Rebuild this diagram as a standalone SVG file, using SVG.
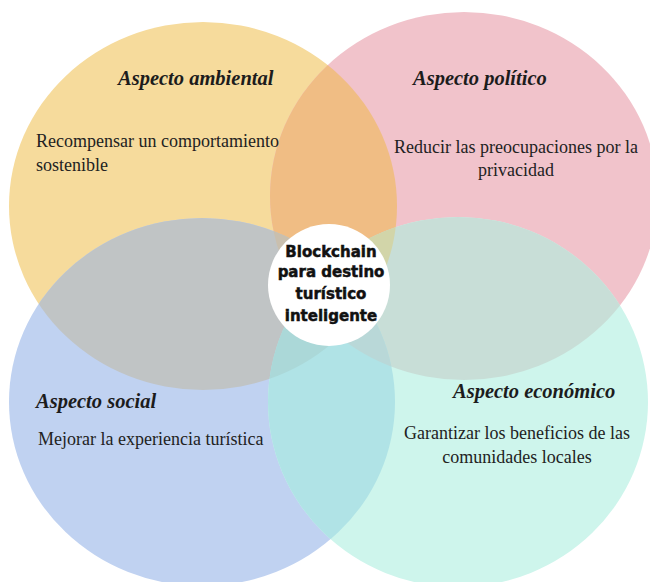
<svg xmlns="http://www.w3.org/2000/svg" width="650" height="582" viewBox="0 0 650 582">
<style>
.h{font-family:"Liberation Serif","Times New Roman",serif;font-weight:bold;font-style:italic;font-size:20.5px;fill:#1c1c1c}
.b{font-family:"Liberation Serif","Times New Roman",serif;font-size:18px;fill:#222}
.c{font-family:"DejaVu Sans","Liberation Sans",sans-serif;font-weight:bold;font-size:15px;fill:#111;stroke:#111;stroke-width:0.5;text-anchor:middle}
.m{text-anchor:middle}
</style>
<defs>
<ellipse id="eY" cx="203" cy="206" rx="194" ry="184"/>
<ellipse id="eP" cx="464" cy="196" rx="194" ry="184"/>
<ellipse id="eB" cx="202" cy="402" rx="193" ry="184"/>
<ellipse id="eT" cx="458" cy="402" rx="190" ry="185"/>
<clipPath id="cY"><use href="#eY"/></clipPath>
<clipPath id="cP"><use href="#eP"/></clipPath>
<clipPath id="cB"><use href="#eB"/></clipPath>
<clipPath id="cT"><use href="#eT"/></clipPath>
</defs>
<rect width="650" height="582" fill="#ffffff"/>
<g id="ambiental">
<use href="#eY" fill="#F6DB9C"/>
</g>
<g id="politico">
<use href="#eP" fill="#F1C3CB"/>
</g>
<g id="social">
<use href="#eB" fill="#C0D2F1"/>
</g>
<g id="economico">
<use href="#eT" fill="#CEF5EC"/>
</g>
<g id="overlaps">
<use href="#eP" fill="#F0BD84" clip-path="url(#cY)"/>
<use href="#eB" fill="#C0C4C5" clip-path="url(#cY)"/>
<use href="#eT" fill="#C8DED7" clip-path="url(#cP)"/>
<use href="#eT" fill="#B0E3E6" clip-path="url(#cB)"/>
<g clip-path="url(#cB)"><use href="#eT" fill="#ABD8D8" clip-path="url(#cY)"/></g>
<g clip-path="url(#cB)"><use href="#eT" fill="#B9D8D8" clip-path="url(#cP)"/></g>
<g clip-path="url(#cY)"><use href="#eP" fill="#C9BFAE" clip-path="url(#cB)"/></g>
<g clip-path="url(#cY)"><use href="#eP" fill="#D2D5A9" clip-path="url(#cT)"/></g>
</g>
<g id="ambiental-text">
<text class="h" x="118" y="85">Aspecto ambiental</text>
<text class="b" x="36" y="147">Recompensar un comportamiento</text>
<text class="b" x="36" y="171">sostenible</text>
</g>
<g id="politico-text">
<text class="h" x="413" y="85">Aspecto político</text>
<text class="b m" x="516" y="153">Reducir las preocupaciones por la</text>
<text class="b m" x="516" y="176">privacidad</text>
</g>
<g id="social-text">
<text class="h" x="36" y="408">Aspecto social</text>
<text class="b" x="38" y="445">Mejorar la experiencia turística</text>
</g>
<g id="economico-text">
<text class="h" x="453" y="398">Aspecto económico</text>
<text class="b m" x="517" y="439">Garantizar los beneficios de las</text>
<text class="b m" x="517" y="463">comunidades locales</text>
</g>
<g id="centro">
<circle cx="329" cy="285" r="61" fill="#ffffff"/>
<text class="c" x="331" y="257">Blockchain</text>
<text class="c" x="331" y="277">para destino</text>
<text class="c" x="331" y="299">turístico</text>
<text class="c" x="331" y="321">inteligente</text>
</g>
<g id="connectors"/>
</svg>
